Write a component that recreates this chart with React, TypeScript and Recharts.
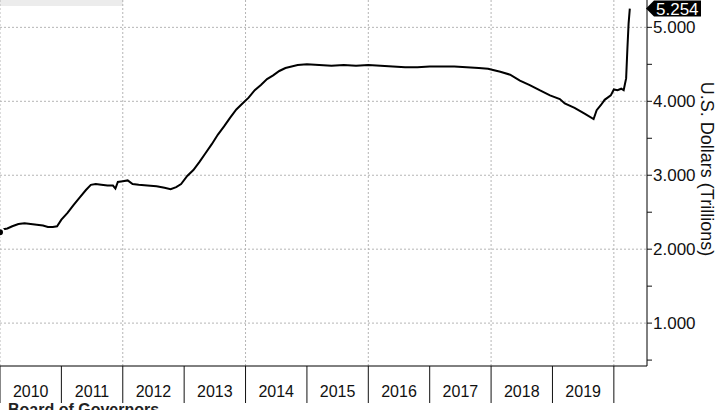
import React from 'react';
import { LineChart, Line, XAxis, YAxis, CartesianGrid } from 'recharts';

// decimal years
const dates = [
  2010.0, 2010.06, 2010.12, 2010.2, 2010.3, 2010.4, 2010.5, 2010.6, 2010.7, 2010.78, 2010.86, 2010.93,
  2011.0, 2011.1, 2011.2, 2011.3, 2011.4, 2011.48, 2011.56, 2011.65, 2011.75, 2011.84, 2011.88, 2011.92,
  2012.0, 2012.08, 2012.16, 2012.26, 2012.4, 2012.55, 2012.68, 2012.78, 2012.87, 2012.95,
  2013.05, 2013.15, 2013.25, 2013.35, 2013.45, 2013.55, 2013.65, 2013.75, 2013.85, 2013.95,
  2014.05, 2014.15, 2014.25, 2014.35, 2014.45, 2014.55, 2014.65, 2014.75, 2014.85,
  2015.0, 2015.2, 2015.4, 2015.6, 2015.8, 2016.0, 2016.2, 2016.4, 2016.6, 2016.8,
  2017.0, 2017.2, 2017.4, 2017.6, 2017.8, 2017.95, 2018.05, 2018.15, 2018.31, 2018.47, 2018.63, 2018.79, 2018.96,
  2019.12, 2019.2, 2019.36, 2019.53, 2019.67, 2019.72, 2019.79, 2019.85, 2019.95,
  2020.0, 2020.06, 2020.12, 2020.16, 2020.18, 2020.2, 2020.22, 2020.24, 2020.26,
];

// U.S. dollars, trillions
const balance = [
  2.23, 2.27, 2.28, 2.31, 2.34, 2.35, 2.34, 2.33, 2.32, 2.3, 2.3, 2.31,
  2.4, 2.49, 2.6, 2.7, 2.8, 2.87, 2.88, 2.87, 2.86, 2.86, 2.82, 2.91,
  2.92, 2.93, 2.88, 2.87, 2.86, 2.85, 2.83, 2.81, 2.84, 2.88,
  2.99, 3.07, 3.18, 3.3, 3.42, 3.55, 3.66, 3.78, 3.89, 3.97,
  4.05, 4.15, 4.22, 4.3, 4.35, 4.41, 4.45, 4.47, 4.49,
  4.5, 4.49, 4.48, 4.49, 4.48, 4.49, 4.48, 4.47, 4.46, 4.46,
  4.47, 4.47, 4.47, 4.46, 4.45, 4.44, 4.42, 4.4, 4.36, 4.28, 4.22, 4.15, 4.08,
  4.03, 3.97, 3.91, 3.83, 3.76, 3.88, 3.95, 4.02, 4.08,
  4.16, 4.15, 4.17, 4.15, 4.23, 4.31, 4.7, 5.05, 5.254,
];

const yearLabels = ['2010', '2011', '2012', '2013', '2014', '2015', '2016', '2017', '2018', '2019'];
// year boundaries (separators) and mid-years (labels)
const xTicks = [
  2010, 2010.5, 2011, 2011.5, 2012, 2012.5, 2013, 2013.5, 2014, 2014.5,
  2015, 2015.5, 2016, 2016.5, 2017, 2017.5, 2018, 2018.5, 2019, 2019.5, 2020,
];
const gridYears = [2010, 2012, 2014, 2016, 2018, 2020];
const gridValues = [1, 2, 3, 4, 5];
const lastValue = 5.254;
const yTicks = [0.5, 1, 1.5, 2, 2.5, 3, 3.5, 4, 4.5, 5, lastValue];

const data = dates.map((d, i) => ({ date: d, value: balance[i] }));

const FONT = '"Liberation Sans", Arial, sans-serif';

const YearTick = (props: any) => {
  const { x, y, payload } = props;
  const v = payload.value;
  if (Number.isInteger(v)) {
    return <line x1={x} x2={x} y1={y} y2={y + 37} stroke="#111" strokeWidth={1} />;
  }
  return (
    <text x={x} y={y + 31} textAnchor="middle" fill="#111" fontSize={16} fontFamily={FONT}>
      {yearLabels[Math.floor(v) - 2010]}
    </text>
  );
};

const ValueTick = (props: any) => {
  const { x, y, payload } = props;
  const v = payload.value;
  if (v === lastValue) {
    return (
      <g>
        <path d={`M${x - 1},${y} L${x + 7},${y - 8} L${x + 54},${y - 8} L${x + 54},${y + 8} L${x + 7},${y + 8} Z`} fill="#000" />
        <text x={x + 9} y={y + 6} fill="#fff" fontSize={17} fontFamily={FONT}>
          {v.toFixed(3)}
        </text>
      </g>
    );
  }
  const major = Number.isInteger(v);
  return (
    <g>
      <line x1={x} x2={x + 5} y1={y} y2={y} stroke="#111" strokeWidth={1} />
      {major && (
        <text x={x + 6} y={y + 6} fill="#111" fontSize={17} fontFamily={FONT}>
          {v.toFixed(3)}
        </text>
      )}
    </g>
  );
};

const AxisTitle = (props: any) => {
  const { viewBox } = props;
  const cx = viewBox.x + viewBox.width - 12;
  const cy = viewBox.y + viewBox.height / 2 - 14;
  return (
    <text
      x={cx}
      y={cy}
      transform={`rotate(90, ${cx}, ${cy})`}
      textAnchor="middle"
      dominantBaseline="middle"
      fill="#111"
      fontSize={18}
      fontFamily={FONT}
    >
      U.S. Dollars (Trillions)
    </text>
  );
};

export default function App() {
  return (
    <div style={{ position: 'absolute', left: 0, top: 0, width: 718, height: 410, overflow: 'hidden', background: '#fff' }}>
      <div style={{ position: 'absolute', left: 0, top: 0, width: 123, height: 6, background: '#ececec' }} />
      <LineChart width={718} height={410} data={data} margin={{ top: 0, right: 0, bottom: 0, left: 0 }}>
        <CartesianGrid
          horizontalValues={gridValues}
          verticalValues={gridYears}
          stroke="#b5b5b5"
          strokeDasharray="2 2"
        />
        <XAxis
          dataKey="date"
          type="number"
          domain={[2010, 2020.54]}
          ticks={xTicks}
          interval={0}
          height={44}
          tickSize={0}
          tickMargin={0}
          tickLine={false}
          axisLine={{ stroke: '#000' }}
          tick={<YearTick />}
          allowDataOverflow
        />
        <YAxis
          orientation="right"
          type="number"
          domain={[0.42, 5.37]}
          ticks={yTicks}
          interval={0}
          width={71}
          tickSize={0}
          tickMargin={0}
          tickLine={false}
          axisLine={{ stroke: '#000' }}
          tick={<ValueTick />}
          allowDataOverflow
          label={<AxisTitle />}
        />
        <Line
          type="linear"
          dataKey="value"
          stroke="#000"
          strokeWidth={2}
          dot={false}
          isAnimationActive={false}
        />
      </LineChart>
      <div
        style={{
          position: 'absolute',
          left: 8,
          top: 401,
          fontFamily: FONT,
          fontSize: 16,
          fontWeight: 'bold',
          color: '#222',
          whiteSpace: 'nowrap',
        }}
      >
        Board of Governors
      </div>
    </div>
  );
}
